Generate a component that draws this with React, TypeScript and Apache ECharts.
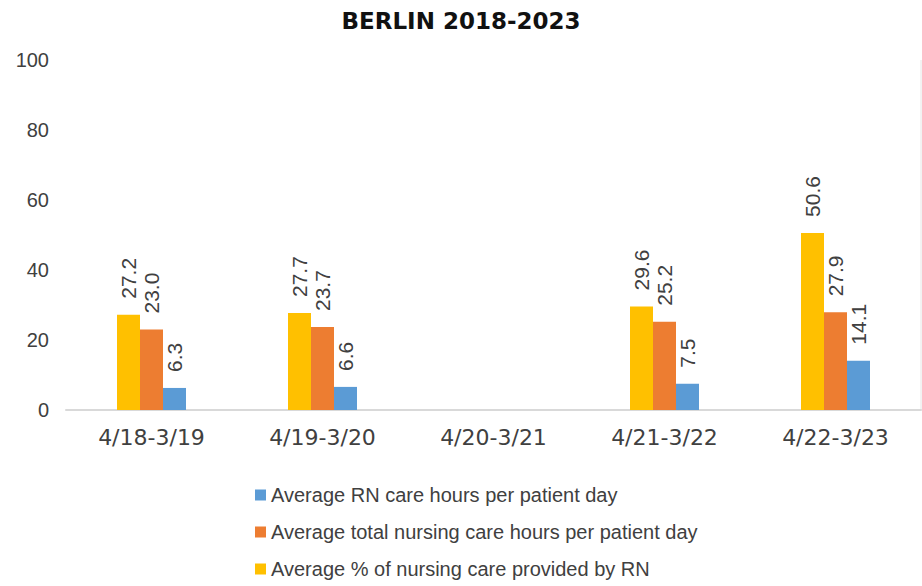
import React, { useEffect, useRef } from "react";
import * as echarts from "echarts";

const categories = ["4/18-3/19", "4/19-3/20", "4/20-3/21", "4/21-3/22", "4/22-3/23"];
const pctByRN = [27.2, 27.7, null, 29.6, 50.6];
const totalHours = [23.0, 23.7, null, 25.2, 27.9];
const rnHours = [6.3, 6.6, null, 7.5, 14.1];
const seriesNames = [
  "Average % of nursing care provided by RN",
  "Average total nursing care hours per patient day",
  "Average RN care hours per patient day",
];
const legendOrder = [seriesNames[2], seriesNames[1], seriesNames[0]];
const colors = ["#FFC000", "#ED7D31", "#5B9BD5"];

export default function App() {
  const ref = useRef<HTMLDivElement>(null);
  useEffect(() => {
    if (!ref.current) return;
    const chart = echarts.init(ref.current, null, { renderer: "svg" });
    const label = {
      show: true,
      position: "top",
      rotate: 90,
      align: "left",
      verticalAlign: "middle",
      distance: 16,
      fontFamily: "Liberation Sans",
      fontSize: 21,
      color: "#404040",
      formatter: (p: any) => (p.value == null ? "" : Number(p.value).toFixed(1)),
    };
    const datas = [pctByRN, totalHours, rnHours];
    chart.setOption({
      animation: false,
      backgroundColor: "#ffffff",
      title: {
        text: "BERLIN 2018-2023",
        left: "center",
        top: 4,
        textStyle: {
          fontFamily: "DejaVu Sans",
          fontWeight: "bold",
          fontSize: 23,
          color: "#111111",
        },
      },
      grid: { left: 66, right: 1, top: 60, bottom: 176, containLabel: false },
      legend: {
        orient: "vertical",
        left: 250,
        top: 480,
        data: legendOrder,
        icon: "rect",
        itemWidth: 11,
        itemHeight: 11,
        itemGap: 17,
        textStyle: { fontFamily: "Liberation Sans", fontSize: 20, color: "#404040" },
      },
      xAxis: {
        type: "category",
        data: categories,
        axisLine: { show: true, lineStyle: { color: "#d9d9d9", width: 2 } },
        axisTick: { show: false },
        axisLabel: {
          margin: 16,
          fontFamily: "DejaVu Sans",
          fontSize: 22,
          color: "#404040",
        },
      },
      yAxis: {
        type: "value",
        min: 0,
        max: 100,
        interval: 20,
        axisLine: { show: false },
        axisTick: { show: false },
        splitLine: { show: false },
        axisLabel: {
          margin: 17,
          fontFamily: "Liberation Sans",
          fontSize: 20,
          color: "#404040",
        },
      },
      graphic: [
        {
          type: "line",
          shape: { x1: 921, y1: 60, x2: 921, y2: 410 },
          style: { stroke: "#e6e6e6", lineWidth: 1 },
        },
      ],
      series: seriesNames.map((name, i) => ({
        name,
        type: "bar",
        data: datas[i],
        barWidth: 23,
        barGap: "0%",
        itemStyle: { color: colors[i] },
        label,
      })),
    });
    return () => chart.dispose();
  }, []);
  return (
    <div
      ref={ref}
      style={{ position: "fixed", left: 0, top: 0, width: 922, height: 586 }}
    />
  );
}
